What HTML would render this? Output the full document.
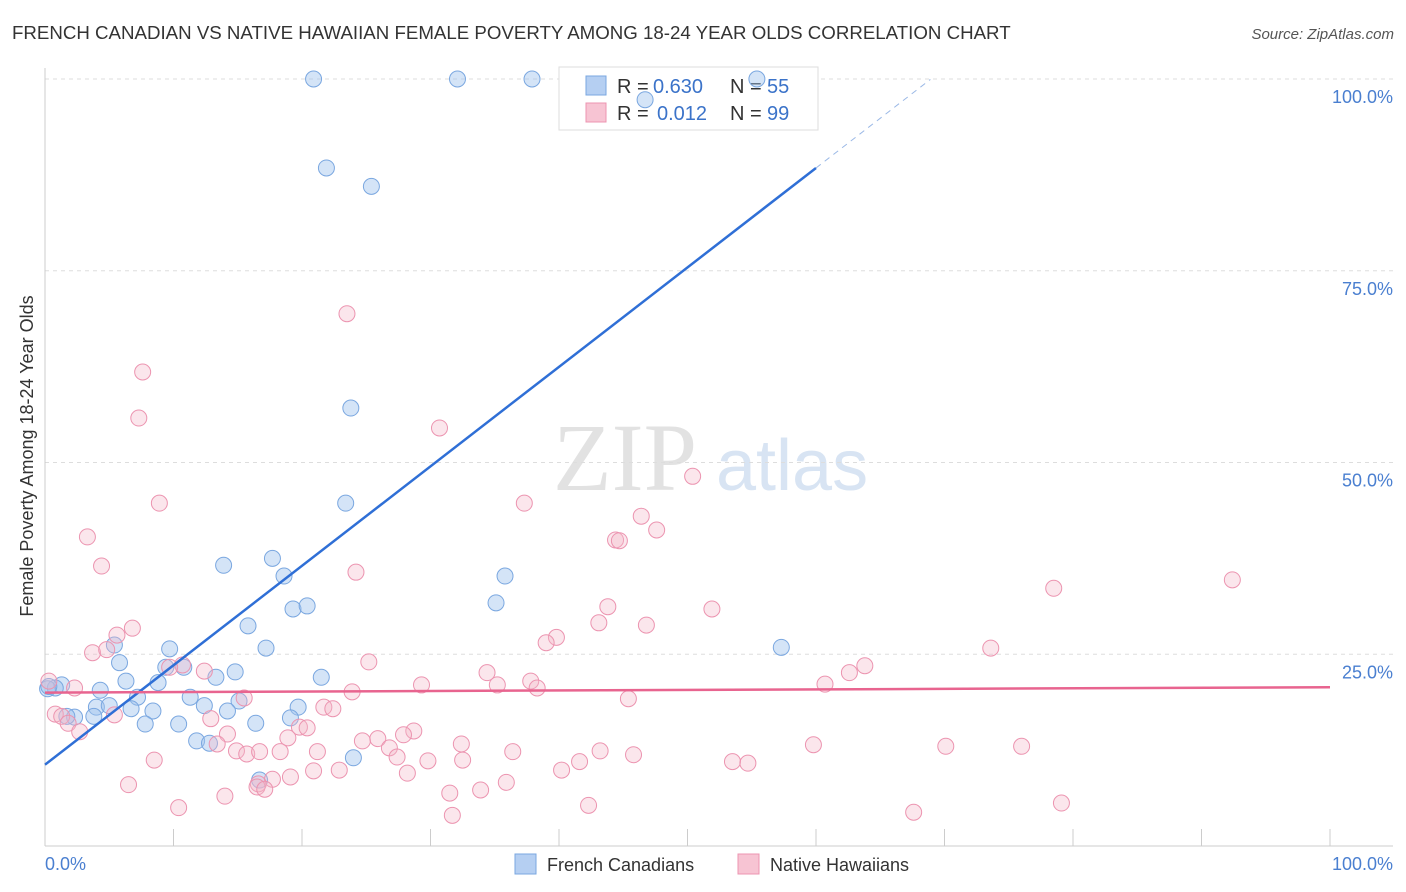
<!DOCTYPE html>
<html><head><meta charset="utf-8"><style>
body{margin:0;background:#fff;font-family:"Liberation Sans",sans-serif}
svg{display:block}
</style></head><body>
<svg id="c" width="1406" height="892" xmlns="http://www.w3.org/2000/svg">
<text x="12" y="39" font-size="18.7" fill="#333">FRENCH CANADIAN VS NATIVE HAWAIIAN FEMALE POVERTY AMONG 18-24 YEAR OLDS CORRELATION CHART</text>
<text x="1394" y="39" font-size="15" fill="#555" text-anchor="end" font-style="italic">Source: ZipAtlas.com</text>
<text x="33" y="456" font-size="18" fill="#333" text-anchor="middle" transform="rotate(-90 33 456)">Female Poverty Among 18-24 Year Olds</text>
<g><text x="553" y="490" font-size="96" font-family="Liberation Serif,serif" fill="#e2e2e2">ZIP</text><text x="716" y="490" font-size="72" fill="#d8e4f3">atlas</text></g>
<g id="grid"></g><g id="ticks"></g>
<g>
<rect x="559" y="67" width="259" height="63" fill="#fff" stroke="#ddd"/>
<rect x="586" y="76" width="20" height="19" fill="#b5cff2" stroke="#7aa7e0"/>
<rect x="586" y="103" width="20" height="19" fill="#f7c4d3" stroke="#ec94b0"/>
<text x="617" y="93" font-size="20" fill="#333">R =</text><text x="653" y="93" font-size="20" fill="#3b73c9">0.630</text>
<text x="730" y="93" font-size="20" fill="#333">N =</text><text x="767" y="93" font-size="20" fill="#3b73c9">55</text>
<text x="617" y="120" font-size="20" fill="#333">R =</text><text x="657" y="120" font-size="20" fill="#3b73c9">0.012</text>
<text x="730" y="120" font-size="20" fill="#333">N =</text><text x="767" y="120" font-size="20" fill="#3b73c9">99</text>
</g>
<g id="pts"></g><g id="lines"></g>
<g>
<rect x="515" y="854" width="21" height="20" fill="#b5cff2" stroke="#7aa7e0"/>
<text x="547" y="871" font-size="18" fill="#333">French Canadians</text>
<rect x="738" y="854" width="21" height="20" fill="#f7c4d3" stroke="#ec94b0"/>
<text x="770" y="871" font-size="18" fill="#333">Native Hawaiians</text>
</g>
<text x="45" y="870" font-size="18" fill="#4a7fd0">0.0%</text>
<text x="1393" y="870" font-size="18" fill="#4a7fd0" text-anchor="end">100.0%</text>
</svg>
<script>
const yTicks=[25,50,75,100];
const yTickLabels=["25.0%","50.0%","75.0%","100.0%"];
const xTicks=[0,10,20,30,40,50,60,70,80,90,100];
const blueX=[20.9,32.1,37.9,55.4,46.7,21.9,25.4,23.8,23.4,13.9,17.7,18.6,35.8,19.3,20.4,35.1,15.8,17.2,57.3,5.4,9.7,5.8,9.4,10.8,14.8,13.3,6.3,8.8,1.3,0.8,0.2,4.3,7.2,11.3,15.1,12.4,19.7,4.0,5.0,8.4,6.7,14.2,19.1,21.5,10.4,7.8,16.4,2.3,3.8,11.8,12.8,24.0,16.7,1.7,0.3];
const blueY=[100,100,100,100,97.3,88.4,86.0,57.1,44.7,36.6,37.5,35.2,35.2,30.9,31.3,31.7,28.7,25.8,25.9,26.2,25.7,23.9,23.3,23.3,22.7,22.0,21.5,21.3,21.0,20.6,20.5,20.3,19.4,19.4,18.9,18.3,18.1,18.1,18.3,17.6,17.9,17.6,16.7,22.0,15.9,15.9,16.0,16.8,16.9,13.7,13.4,11.5,8.6,16.9,20.8];
const pinkX=[23.5,7.6,7.3,30.7,8.9,50.4,37.3,3.3,46.4,47.6,44.4,44.7,4.4,24.2,92.4,78.5,43.8,51.9,43.1,46.8,6.8,5.6,39.8,39.0,3.7,4.8,73.6,25.2,10.7,9.7,63.8,62.6,12.4,34.4,37.8,35.2,38.3,60.7,29.3,2.3,0.3,23.9,15.5,45.4,21.7,22.4,0.8,1.3,5.4,12.9,1.8,19.8,20.4,28.7,2.7,14.2,27.9,18.9,25.9,24.7,13.4,26.8,32.4,59.8,70.1,76.0,14.9,15.7,16.7,18.3,21.2,36.4,43.2,45.8,27.4,32.5,29.8,41.6,8.5,53.5,54.7,20.9,22.9,40.2,28.2,19.1,17.7,16.6,35.9,16.5,17.1,6.5,33.9,31.5,14.0,42.3,79.1,10.4,67.6,31.7];
const pinkY=[69.4,61.8,55.8,54.5,44.7,48.2,44.7,40.3,43.0,41.2,39.9,39.8,36.5,35.7,34.7,33.6,31.2,30.9,29.1,28.8,28.4,27.5,27.2,26.5,25.2,25.6,25.8,24.0,23.6,23.3,23.5,22.6,22.8,22.6,21.5,21.0,20.6,21.1,21.0,20.6,21.5,20.1,19.3,19.2,18.1,17.9,17.2,16.9,17.1,16.6,16.0,15.5,15.4,15.0,14.9,14.6,14.5,14.1,14.0,13.7,13.3,12.8,13.3,13.2,13.0,13.0,12.4,12.0,12.3,12.3,12.3,12.3,12.4,11.9,11.6,11.2,11.1,11.0,11.2,11.0,10.8,9.8,9.9,9.9,9.5,9.0,8.7,8.1,8.3,7.7,7.4,8.0,7.3,6.9,6.5,5.3,5.6,5.0,4.4,4.0];
const blueTrend=[10.6,88.4];
const pinkTrend=[20.0,20.7];
const NS="http://www.w3.org/2000/svg";
const X=v=>45+v*12.85, Y=v=>846-v*7.67;
function mk(t,a,p){const e=document.createElementNS(NS,t);for(const k in a)e.setAttribute(k,a[k]);document.getElementById(p).appendChild(e);return e;}
yTicks.forEach((t,i)=>{
 const g=mk('line',{x1:45,x2:1393,y1:Y(t),y2:Y(t),stroke:'#ddd','stroke-dasharray':'4 4'},'grid');
 
 
 const l=mk('text',{x:1393,y:Y(t)+24,'font-size':18,fill:'#4a7fd0','text-anchor':'end'},'grid');
 l.textContent=yTickLabels[i];
 
 
});
mk('line',{x1:45,x2:45,y1:68,y2:846,stroke:'#ccc'},'ticks');
mk('line',{x1:45,x2:1393,y1:846,y2:846,stroke:'#ccc'},'ticks');
xTicks.forEach(t=>{const e=mk('line',{x1:X(t),x2:X(t),y1:829,y2:846,stroke:'#ccc'},'ticks');
 
 });
blueX.forEach((v,i)=>{const c=mk('circle',{cx:X(v),cy:Y(blueY[i]),r:8,fill:'rgba(160,195,238,0.45)',stroke:'#7aa7e0','stroke-width':1},'pts');
 
 });
pinkX.forEach((v,i)=>{const c=mk('circle',{cx:X(v),cy:Y(pinkY[i]),r:8,fill:'rgba(244,183,201,0.35)',stroke:'#ec94b0','stroke-width':1},'pts');
 
 });
const bs=(blueTrend[1]-blueTrend[0])/60;
const b1=mk('line',{x1:X(0),y1:Y(blueTrend[0]),x2:X(60),y2:Y(blueTrend[1]),stroke:'#2f6fd6','stroke-width':2.5},'lines');


const b2=mk('line',{x1:X(60),y1:Y(blueTrend[1]),x2:X(68.9),y2:Y(blueTrend[0]+bs*68.9),stroke:'#9ab8e6','stroke-width':1,'stroke-dasharray':'6 5'},'lines');


const p1=mk('line',{x1:X(0),y1:Y(pinkTrend[0]),x2:X(100),y2:Y(pinkTrend[1]),stroke:'#e8648f','stroke-width':2.5},'lines');


</script>
</body></html>
